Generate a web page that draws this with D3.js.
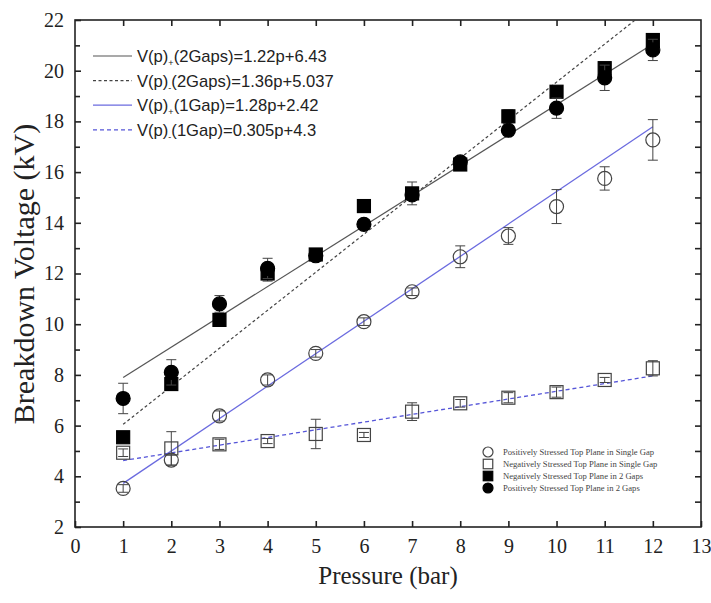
<!DOCTYPE html>
<html>
<head>
<meta charset="utf-8">
<script src="https://cdn.jsdelivr.net/npm/d3@7"></script>
<style>
  body { margin: 0; background: #fff; }
  svg { display: block; }
</style>
</head>
<body>
<div id="chart"></div>
<script>
// pressure (bar)
const pressure = [1, 2, 3, 4, 5, 6, 7, 8, 9, 10, 11, 12];

// breakdown voltage (kV)
const posSingle = [3.52, 4.64, 6.38, 7.8, 8.85, 10.1, 11.28, 12.66, 13.48, 14.64, 15.75, 17.27];
const posSingleErr = [0.15, 0.2, 0.2, 0.2, 0.15, 0.15, 0.15, 0.43, 0.33, 0.67, 0.46, 0.8];
const negSingle = [4.93, 5.1, 5.26, 5.39, 5.67, 5.63, 6.55, 6.88, 7.1, 7.32, 7.8, 8.26];
const negSingleErr = [0.15, 0.66, 0.2, 0.1, 0.58, 0.1, 0.35, 0.15, 0.2, 0.2, 0.1, 0.3];
const negDouble = [5.54, 7.64, 10.17, 12.0, 12.75, 14.66, 15.16, 16.3, 18.2, 19.17, 20.1, 21.21];
const negDoubleErr = [0, 0, 0, 0.3, 0.15, 0, 0.45, 0.1, 0.25, 0, 0.15, 0.1];
const posDouble = [7.07, 8.1, 10.8, 12.2, 12.7, 13.94, 15.1, 16.4, 17.65, 18.52, 19.72, 20.82];
const posDoubleErr = [0.6, 0.5, 0.33, 0.4, 0.1, 0, 0.2, 0.1, 0.15, 0.4, 0.5, 0.42];

// fit lines, end points as drawn in the figure
const fitPos2 = [[1, 7.9], [12, 21.05]];
const fitNeg2 = [[1, 6.05], [12, 22.55]];
const fitPos1 = [[1, 3.72], [12, 17.79]];
const fitNeg1 = [[1, 4.62], [12, 7.96]];

const fitLabels = [
  { main: 'V(p)', sub: '+', rest: '(2Gaps)=1.22p+6.43' },
  { main: 'V(p)', sub: '-', rest: '(2Gaps)=1.36p+5.037' },
  { main: 'V(p)', sub: '+', rest: '(1Gap)=1.28p+2.42' },
  { main: 'V(p)', sub: '-', rest: '(1Gap)=0.305p+4.3' }
];
const seriesLabels = [
  'Positively Stressed Top Plane in Single Gap',
  'Negatively Stressed Top Plane in Single Gap',
  'Negatively Stressed Top Plane in 2 Gaps',
  'Positively Stressed Top Plane in 2 Gaps'
];

const width = 711, height = 603;
const margin = { top: 20, right: 10, bottom: 76, left: 75 };
const innerW = width - margin.left - margin.right;
const innerH = height - margin.top - margin.bottom;

const x = d3.scaleLinear().domain([0, 13]).range([0, innerW]);
const y = d3.scaleLinear().domain([2, 22]).range([innerH, 0]);

const svg = d3.select('#chart').append('svg')
  .attr('width', width)
  .attr('height', height);

svg.append('defs').append('clipPath').attr('id', 'plotclip')
  .append('rect').attr('width', innerW).attr('height', innerH);

const g = svg.append('g').attr('transform', `translate(${margin.left},${margin.top})`);

const serif = '"Liberation Serif", "Times New Roman", serif';
const sans = '"Liberation Sans", Arial, sans-serif';

// axes, all ticks pointing inwards
const xTicks = d3.range(0, 14);
const yMajor = d3.range(2, 23, 2);
const yAll = d3.range(2, 23, 1);

g.append('g')
  .attr('transform', `translate(0,${innerH})`)
  .call(d3.axisBottom(x).tickValues(xTicks).tickSize(-6).tickPadding(12).tickFormat(d3.format('d')));
g.append('g')
  .call(d3.axisTop(x).tickValues(xTicks.slice(1, -1)).tickSize(-6).tickFormat(''));
g.append('g')
  .call(d3.axisLeft(y).tickValues(yMajor).tickSize(-6).tickPadding(11).tickFormat(d3.format('d')));
g.append('g')
  .call(d3.axisLeft(y).tickValues(yAll.filter(d => d % 2 === 1)).tickSize(-5).tickFormat(''));
g.append('g')
  .attr('transform', `translate(${innerW},0)`)
  .call(d3.axisRight(y).tickValues(yAll.slice(1, -1)).tickSize(-6).tickFormat(''));

g.selectAll('.domain').remove();
g.selectAll('.tick line').attr('stroke', '#222').attr('stroke-width', 1.6);
g.selectAll('.tick text')
  .attr('font-family', serif)
  .attr('font-size', 20)
  .attr('fill', '#222');

g.append('rect')
  .attr('width', innerW)
  .attr('height', innerH)
  .attr('fill', 'none')
  .attr('stroke', '#222')
  .attr('stroke-width', 1.6);

// axis titles
svg.append('text')
  .attr('x', margin.left + innerW / 2)
  .attr('y', 584)
  .attr('text-anchor', 'middle')
  .attr('font-family', serif)
  .attr('font-size', 25)
  .attr('fill', '#222')
  .text('Pressure (bar)');

svg.append('text')
  .attr('transform', `translate(34,274) rotate(-90)`)
  .attr('text-anchor', 'middle')
  .attr('font-family', serif)
  .attr('font-size', 30)
  .attr('fill', '#222')
  .text('Breakdown Voltage (kV)');

// fit lines
const line = d3.line().x(d => x(d[0])).y(d => y(d[1]));
const fits = [
  { data: fitPos2, color: '#555', dash: null, w: 1.2 },
  { data: fitNeg2, color: '#444', dash: '3,2.5', w: 1.2 },
  { data: fitPos1, color: '#6b6bdf', dash: null, w: 1.3 },
  { data: fitNeg1, color: '#5555d8', dash: '4,3', w: 1.3 }
];
const fitG = g.append('g').attr('clip-path', 'url(#plotclip)');
fits.forEach(f => {
  fitG.append('path')
    .attr('d', line(f.data))
    .attr('fill', 'none')
    .attr('stroke', f.color)
    .attr('stroke-width', f.w)
    .attr('stroke-dasharray', f.dash);
});

// series with error bars
const series = [
  { vals: posSingle, err: posSingleErr, shape: 'circle', fill: 'none' },
  { vals: negSingle, err: negSingleErr, shape: 'square', fill: 'none' },
  { vals: negDouble, err: negDoubleErr, shape: 'square', fill: '#000' },
  { vals: posDouble, err: posDoubleErr, shape: 'circle', fill: '#000' }
];

function drawMarker(sel, shape, fill, cx, cy, size) {
  if (shape === 'circle') {
    sel.append('circle')
      .attr('cx', cx).attr('cy', cy).attr('r', size / 2)
      .attr('fill', fill)
      .attr('stroke', fill === 'none' ? '#444' : '#000')
      .attr('stroke-width', 1.2);
  } else {
    sel.append('rect')
      .attr('x', cx - size / 2).attr('y', cy - size / 2)
      .attr('width', size).attr('height', size)
      .attr('fill', fill)
      .attr('stroke', fill === 'none' ? '#444' : '#000')
      .attr('stroke-width', 1.2);
  }
}

series.forEach(s => {
  const sg = g.append('g');
  pressure.forEach((p, i) => {
    const v = s.vals[i], e = s.err[i];
    if (e > 0) {
      const cx = x(p), y0 = y(v - e), y1 = y(v + e);
      sg.append('line').attr('x1', cx).attr('x2', cx).attr('y1', y0).attr('y2', y1)
        .attr('stroke', '#444').attr('stroke-width', 1);
      [y0, y1].forEach(yy => {
        sg.append('line').attr('x1', cx - 5).attr('x2', cx + 5).attr('y1', yy).attr('y2', yy)
          .attr('stroke', '#444').attr('stroke-width', 1);
      });
    }
    drawMarker(sg, s.shape, s.fill, x(p), y(v), s.shape === 'circle' ? 14 : 13);
  });
});

// legend for fit lines (top left)
const leg1 = svg.append('g').attr('transform', 'translate(93,56)');
fits.forEach((f, i) => {
  const row = leg1.append('g').attr('transform', `translate(0,${i * 24.6})`);
  row.append('line')
    .attr('x1', 0).attr('x2', 39)
    .attr('stroke', f.color)
    .attr('stroke-width', f.w)
    .attr('stroke-dasharray', f.dash);
  const t = row.append('text')
    .attr('x', 44)
    .attr('y', 6)
    .attr('font-family', sans)
    .attr('font-size', 16.6)
    .attr('fill', '#222');
  t.append('tspan').text(fitLabels[i].main);
  t.append('tspan').attr('font-size', 9).attr('dy', 4).text(fitLabels[i].sub);
  t.append('tspan').attr('dy', -4).text(fitLabels[i].rest);
});

// legend for data series (bottom right)
const leg2 = svg.append('g').attr('transform', 'translate(488,452)');
seriesLabels.forEach((lab, i) => {
  const row = leg2.append('g').attr('transform', `translate(0,${i * 12})`);
  drawMarker(row, series[i].shape, series[i].fill, 0, 0, series[i].shape === 'circle' ? 10 : 9.5);
  row.append('text')
    .attr('x', 15)
    .attr('y', 3)
    .attr('font-family', serif)
    .attr('font-size', 8.6)
    .attr('fill', '#444')
    .text(lab);
});
</script>
</body>
</html>
